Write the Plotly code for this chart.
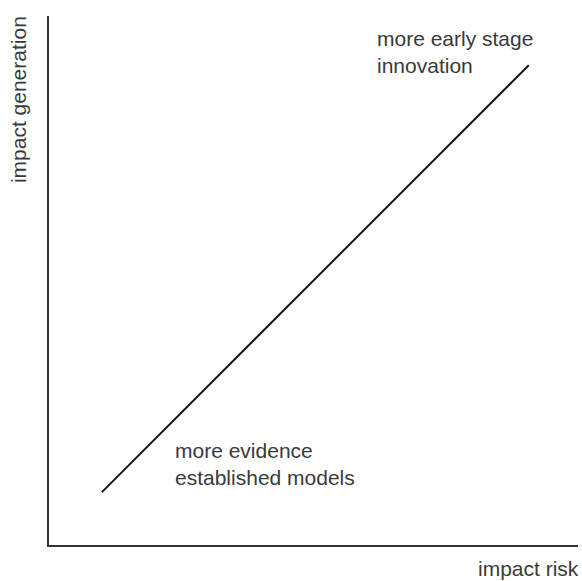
import plotly.graph_objects as go

# Data (conceptual axes, 0-10 scale)
impact_risk = [1.0, 9.07]
impact_generation = [1.0, 9.07]
x_title = "impact risk"
y_title = "impact generation"
low_label = "more evidence<br>established models"
high_label = "more early stage<br>innovation"

FONT = "Liberation Sans, Arial, sans-serif"
TXT = "#3a3a3a"

fig = go.Figure()
fig.add_trace(go.Scatter(
    x=impact_risk, y=impact_generation, mode="lines",
    line=dict(color="#151515", width=2), hoverinfo="skip", showlegend=False,
))

fig.update_layout(
    width=582, height=581,
    margin=dict(l=49, r=4, t=16, b=36),
    paper_bgcolor="white", plot_bgcolor="white",
    xaxis=dict(range=[0, 10], showline=True, linecolor="#333333", linewidth=2,
               showgrid=False, zeroline=False, showticklabels=False, ticks=""),
    yaxis=dict(range=[0, 10], showline=True, linecolor="#333333", linewidth=2,
               showgrid=False, zeroline=False, showticklabels=False, ticks=""),
    showlegend=False,
)

ann_font = dict(family=FONT, size=21, color=TXT)
fig.add_annotation(text=y_title, xref="paper", yref="paper", x=-0.0586, y=0.841,
                   textangle=-90, showarrow=False, xanchor="center", yanchor="middle",
                   font=ann_font)
fig.add_annotation(text=x_title, xref="paper", yref="paper", x=0.906, y=-0.0435,
                   showarrow=False, xanchor="center", yanchor="middle", font=ann_font)
fig.add_annotation(text=low_label, xref="paper", yref="paper", x=0.2344, y=0.1531,
                   showarrow=False, xanchor="left", yanchor="middle", align="left",
                   font=ann_font)
fig.add_annotation(text=high_label, xref="paper", yref="paper", x=0.616, y=0.932,
                   showarrow=False, xanchor="left", yanchor="middle", align="left",
                   font=ann_font)

fig.write_html("out.html",
               config={"displayModeBar": False},
               post_script="document.body.style.margin='0';document.body.style.overflow='hidden';")
